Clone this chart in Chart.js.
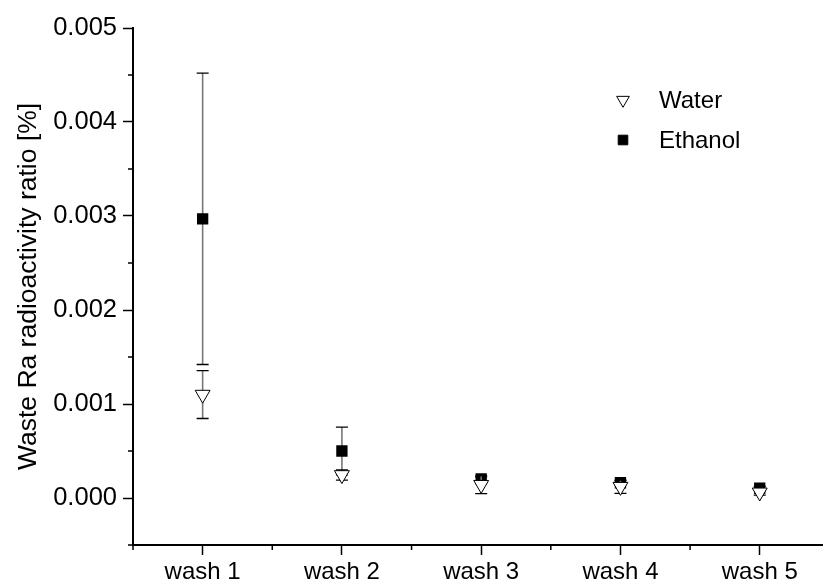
<!DOCTYPE html>
<html>
<head>
<meta charset="utf-8">
<script src="https://cdn.jsdelivr.net/npm/chart.js@4"></script>
<style>
  html, body { margin: 0; padding: 0; background: #fff; overflow: hidden; }
  #wrap { width: 832px; height: 584px; }
</style>
</head>
<body>
<div id="wrap"><canvas id="grafico" width="832" height="584"></canvas></div>
<script>
// Dados
const categorias = ['wash 1', 'wash 2', 'wash 3', 'wash 4', 'wash 5'];
const aguaValores = [0.00110, 0.000245, 0.000141, 0.000120, 0.000060];
const aguaErros = [0.000254, 0.000055, 0.000095, 0.000070, 0.000030];
const etanolValores = [0.00297, 0.000500, 0.000204, 0.000162, 0.000104];
const etanolErros = [0.00155, 0.000255, 0.000020, 0.000020, 0.000020];

// Ticks
const yTicks = [-0.0005, 0, 0.0005, 0.001, 0.0015, 0.002, 0.0025, 0.003, 0.0035, 0.004, 0.0045, 0.005];
const yRotulos = ['', '0.000', '', '0.001', '', '0.002', '', '0.003', '', '0.004', '', '0.005'];
const xTicks = [0.5, 1, 1.5, 2, 2.5, 3, 3.5, 4, 4.5, 5];
const xRotulos = ['', 'wash 1', '', 'wash 2', '', 'wash 3', '', 'wash 4', '', 'wash 5'];

const fonte = "'Liberation Sans', Arial, sans-serif";

// Barras de erro desenhadas antes de cada dataset
const errorBarPlugin = {
    id: 'errorBars',
    beforeDatasetDraw(chart, args) {
        const ds = chart.data.datasets[args.index];
        if (!ds.erros) return;
        const { ctx, scales: { x, y } } = chart;
        ctx.save();
        ds.data.forEach((p, i) => {
            const px = x.getPixelForValue(p.x);
            const top = y.getPixelForValue(p.y + ds.erros[i]);
            const bot = y.getPixelForValue(p.y - ds.erros[i]);
            ctx.strokeStyle = '#777';
            ctx.lineWidth = 1.6;
            ctx.beginPath();
            ctx.moveTo(px, top);
            ctx.lineTo(px, bot);
            ctx.stroke();
            ctx.strokeStyle = '#000';
            ctx.lineWidth = 1.3;
            ctx.beginPath();
            ctx.moveTo(px - 6, top);
            ctx.lineTo(px + 6, top);
            ctx.moveTo(px - 6, bot);
            ctx.lineTo(px + 6, bot);
            ctx.stroke();
        });
        ctx.restore();
    }
};

// Ticks menores (metade do comprimento)
const minorTicksPlugin = {
    id: 'minorTicks',
    afterDraw(chart) {
        const { ctx, scales: { x, y } } = chart;
        ctx.save();
        ctx.strokeStyle = '#000';
        ctx.lineWidth = 1.5;
        ctx.beginPath();
        yTicks.forEach((v, i) => {
            if (yRotulos[i] !== '') return;
            const py = y.getPixelForValue(v);
            ctx.moveTo(x.left - 5, py);
            ctx.lineTo(x.left, py);
        });
        xTicks.forEach((v, i) => {
            if (xRotulos[i] !== '') return;
            const px = x.getPixelForValue(v);
            ctx.moveTo(px, y.bottom);
            ctx.lineTo(px, y.bottom + 5);
        });
        ctx.stroke();
        ctx.restore();
    }
};

// Legenda dentro da área do gráfico
const legendaPlugin = {
    id: 'legendaInterna',
    afterDraw(chart) {
        const { ctx } = chart;
        ctx.save();
        ctx.font = '24px ' + fonte;
        ctx.textBaseline = 'middle';
        chart.data.datasets.forEach((ds, i) => {
            const lx = 623;
            const ly = 100 + i * 40;
            ctx.fillStyle = ds.backgroundColor;
            ctx.strokeStyle = ds.borderColor;
            ctx.lineWidth = 1;
            Chart.helpers.drawPoint(ctx, {
                pointStyle: ds.pointStyle,
                rotation: ds.rotation || 0,
                radius: ds.pointRadius * 0.85,
                borderWidth: 1
            }, lx, ly);
            ctx.fillStyle = '#000';
            ctx.fillText(ds.label, 659, ly + 1);
        });
        ctx.restore();
    }
};

const tickOn = (rotulos) => (c) => (c.index !== undefined && rotulos[c.index] !== '' ? '#000' : 'rgba(0,0,0,0)');

new Chart(document.getElementById('grafico'), {
    type: 'scatter',
    data: {
        datasets: [
            {
                label: 'Water',
                data: categorias.map((c, i) => ({ x: i + 1, y: aguaValores[i] })),
                erros: aguaErros,
                pointStyle: 'triangle',
                rotation: 180,
                pointRadius: 8.6,
                backgroundColor: '#fff',
                borderColor: '#000',
                borderWidth: 1
            },
            {
                label: 'Ethanol',
                data: categorias.map((c, i) => ({ x: i + 1, y: etanolValores[i] })),
                erros: etanolErros,
                pointStyle: 'rect',
                pointRadius: 8,
                backgroundColor: '#000',
                borderColor: '#000',
                borderWidth: 0
            }
        ]
    },
    options: {
        responsive: false,
        animation: false,
        devicePixelRatio: 1,
        layout: { padding: { top: 28, right: 0, left: 0, bottom: 0 } },
        plugins: {
            legend: { display: false },
            tooltip: { enabled: false }
        },
        scales: {
            x: {
                type: 'linear',
                min: 0.5,
                max: 5.45,
                afterBuildTicks: s => { s.ticks = xTicks.map(v => ({ value: v })); },
                afterFit: s => { s.height = 39; },
                border: { display: true, color: '#000', width: 2 },
                grid: {
                    display: true,
                    drawOnChartArea: false,
                    drawTicks: true,
                    tickLength: 10,
                    tickWidth: 1.5,
                    tickColor: tickOn(xRotulos)
                },
                ticks: {
                    autoSkip: false,
                    maxRotation: 0,
                    padding: 3,
                    color: '#000',
                    font: { family: fonte, size: 24 },
                    callback: (v, i) => xRotulos[i]
                }
            },
            y: {
                min: -0.0005,
                max: 0.005,
                afterBuildTicks: s => { s.ticks = yTicks.map(v => ({ value: v })); },
                afterFit: s => { s.width = 133; },
                border: { display: true, color: '#000', width: 2 },
                grid: {
                    display: true,
                    drawOnChartArea: false,
                    drawTicks: true,
                    tickLength: 10,
                    tickWidth: 1.5,
                    tickColor: tickOn(yRotulos)
                },
                ticks: {
                    autoSkip: false,
                    padding: 6,
                    color: '#000',
                    font: { family: fonte, size: 25.5 },
                    callback: (v, i) => yRotulos[i]
                },
                title: {
                    display: true,
                    text: 'Waste Ra radioactivity ratio [%]',
                    color: '#000',
                    font: { family: fonte, size: 26.5 },
                    padding: { top: 13, bottom: 0 }
                }
            }
        }
    },
    plugins: [errorBarPlugin, minorTicksPlugin, legendaPlugin]
});
</script>
</body>
</html>
